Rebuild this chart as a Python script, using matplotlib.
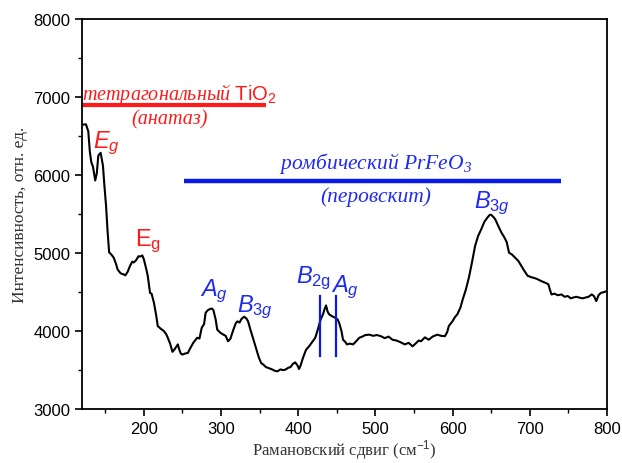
import matplotlib
matplotlib.use("Agg")
import matplotlib.pyplot as plt
from matplotlib.ticker import MultipleLocator

plt.rcParams['mathtext.fontset'] = 'custom'
plt.rcParams['mathtext.rm'] = 'Liberation Sans'
plt.rcParams['mathtext.it'] = 'Liberation Sans:italic'
plt.rcParams['mathtext.sf'] = 'Liberation Serif:italic'

# Raman spectrum
shift = [120, 125, 128, 130, 132, 134, 137, 139, 141, 144, 147, 149, 151, 153, 155, 158,
         161, 164, 166, 170, 173, 176, 179, 182, 185, 187, 190, 193, 195, 198, 200, 203,
         205, 208, 210, 213, 216, 218, 222, 226, 229, 231, 234, 237, 240, 242, 244, 246,
         248, 250, 254, 257, 260, 264, 267, 269, 272, 275, 278, 280, 283, 285, 288, 290,
         293, 295, 299, 303, 306, 309, 312, 316, 319, 321, 324, 326, 328, 330, 333, 335,
         338, 342, 346, 349, 352, 355, 358, 362, 366, 370, 373, 377, 380, 383, 387, 390,
         393, 396, 399, 401, 403, 406, 410, 414, 418, 422, 425, 429, 432, 434, 436, 438,
         440, 444, 448, 451, 453, 456, 458, 461, 463, 467, 471, 475, 479, 483, 487, 492,
         497, 502, 507, 512, 517, 522, 527, 532, 538, 543, 548, 553, 556, 559, 564, 569,
         574, 580, 585, 590, 593, 595, 600, 603, 606, 610, 613, 617, 621, 625, 629, 633,
         637, 641, 645, 648, 650, 653, 655, 659, 663, 667, 670, 673, 677, 681, 685, 689,
         693, 697, 702, 706, 710, 715, 720, 724, 726, 728, 732, 736, 741, 745, 749, 753,
         756, 760, 764, 768, 772, 776, 780, 783, 786, 789, 792, 796, 800]
intensity = [6645, 6650, 6560, 6300, 6160, 6110, 5930, 6020, 6250, 6285, 6120, 5850, 5610, 5280, 5010, 4980,
             4940, 4860, 4790, 4740, 4730, 4715, 4760, 4835, 4890, 4880, 4910, 4960, 4955, 4970, 4920, 4800,
             4710, 4490, 4480, 4365, 4200, 4065, 4030, 4000, 3960, 3915, 3840, 3735, 3770, 3800, 3830, 3760,
             3710, 3700, 3715, 3720, 3780, 3850, 3890, 3915, 3905, 4045, 4090, 4235, 4270, 4280, 4290, 4270,
             4150, 4020, 3980, 3955, 3940, 3870, 3900, 4020, 4100, 4125, 4110, 4150, 4170, 4185, 4160, 4125,
             4020, 3890, 3760, 3660, 3590, 3570, 3540, 3525, 3510, 3490, 3485, 3510, 3500, 3505, 3530, 3540,
             3580, 3600, 3560, 3515, 3560, 3655, 3760, 3805, 3860, 3915, 4010, 4150, 4215, 4280, 4330, 4250,
             4215, 4190, 4170, 4150, 4105, 4000, 3890, 3860, 3830, 3840, 3830, 3870, 3915, 3930, 3950, 3955,
             3940, 3950, 3935, 3910, 3930, 3890, 3880, 3860, 3830, 3850, 3805, 3850, 3880, 3870, 3920, 3890,
             3930, 3955, 3940, 3935, 3990, 4065, 4130, 4180, 4215, 4300, 4405, 4530, 4685, 4880, 5090, 5220,
             5305, 5400, 5455, 5490, 5490, 5460, 5435, 5350, 5265, 5200, 5140, 5005, 4980, 4940, 4900, 4835,
             4770, 4710, 4690, 4680, 4665, 4640, 4620, 4600, 4530, 4470, 4480, 4460, 4470, 4440, 4450, 4420,
             4430, 4440, 4430, 4420, 4430, 4440, 4470, 4450, 4385, 4460, 4490, 4500, 4515]

# phase marker bars (x range, y level)
tio2_bar = [120, 358]
tio2_level = 6900
prfeo3_bar = [252, 740]
prfeo3_level = 5930
# two blue vertical markers
marker_x = [428, 449]
marker_y = [3685, 4450]

fig = plt.figure(figsize=(6.22, 4.64), dpi=100)
ax = fig.add_axes([0.132, 0.116, 0.844, 0.841])

ax.plot(shift, intensity, color='black', lw=1.5)

ax.plot(tio2_bar, [tio2_level, tio2_level], color='#ff1a1a', lw=3, solid_capstyle='butt')
ax.plot(prfeo3_bar, [prfeo3_level, prfeo3_level], color='#0a1ae6', lw=3.2, solid_capstyle='butt')
for mx in marker_x:
    ax.plot([mx, mx], marker_y, color='#0a1ae6', lw=1.6)

red = '#ff1a1a'
blue = '#1f2bf0'
serif_it = dict(family='Liberation Serif', style='italic')

ax.text(246, 7040, r'тетрагональный $\mathrm{TiO_2}$', color=red, fontsize=14.5,
        ha='center', va='center', **serif_it)
ax.text(233, 6720, '(анатаз)', color=red, fontsize=14.5, ha='center', va='center', **serif_it)
ax.text(152, 6420, r'$E_g$', color=red, fontsize=17, ha='center', va='center')
ax.text(206, 5160, r'$\mathrm{E_g}$', color=red, fontsize=17, ha='center', va='center')

ax.text(500, 6165, r'ромбический $\mathsf{PrFeO_3}$', color=blue, fontsize=15.5,
        ha='center', va='center', **serif_it)
ax.text(500, 5735, '(перовскит)', color=blue, fontsize=15.5, ha='center', va='center', **serif_it)
ax.text(291, 4520, r'$A_g$', color=blue, fontsize=17, ha='center', va='center')
ax.text(344, 4320, r'$B_{3g}$', color=blue, fontsize=17, ha='center', va='center')
ax.text(420, 4690, r'$B_{\mathrm{2g}}$', color=blue, fontsize=17, ha='center', va='center')
ax.text(461, 4580, r'$A_g$', color=blue, fontsize=17, ha='center', va='center')
ax.text(651, 5650, r'$B_{3g}$', color=blue, fontsize=17, ha='center', va='center')

ax.set_xlim(120, 800)
ax.set_ylim(3000, 8000)
ax.xaxis.set_major_locator(MultipleLocator(100))
ax.xaxis.set_minor_locator(MultipleLocator(50))
ax.yaxis.set_major_locator(MultipleLocator(1000))
ax.yaxis.set_minor_locator(MultipleLocator(500))
ax.tick_params(which='major', direction='out', length=5, width=1.2, labelsize=12)
ax.tick_params(which='minor', direction='out', length=3, width=1.0)
for lab in ax.get_xticklabels() + ax.get_yticklabels():
    lab.set_family('Liberation Sans')
for s in ax.spines.values():
    s.set_linewidth(1.3)

ax.set_xlabel('Рамановский сдвиг (см$^{-1}$)', family='Liberation Serif', fontsize=12,
              color='#333333', labelpad=1)
ax.set_ylabel('Интенсивность, отн. ед.', family='Liberation Serif', fontsize=12.5, color='#333333')

fig.savefig('out.png', dpi=100)
